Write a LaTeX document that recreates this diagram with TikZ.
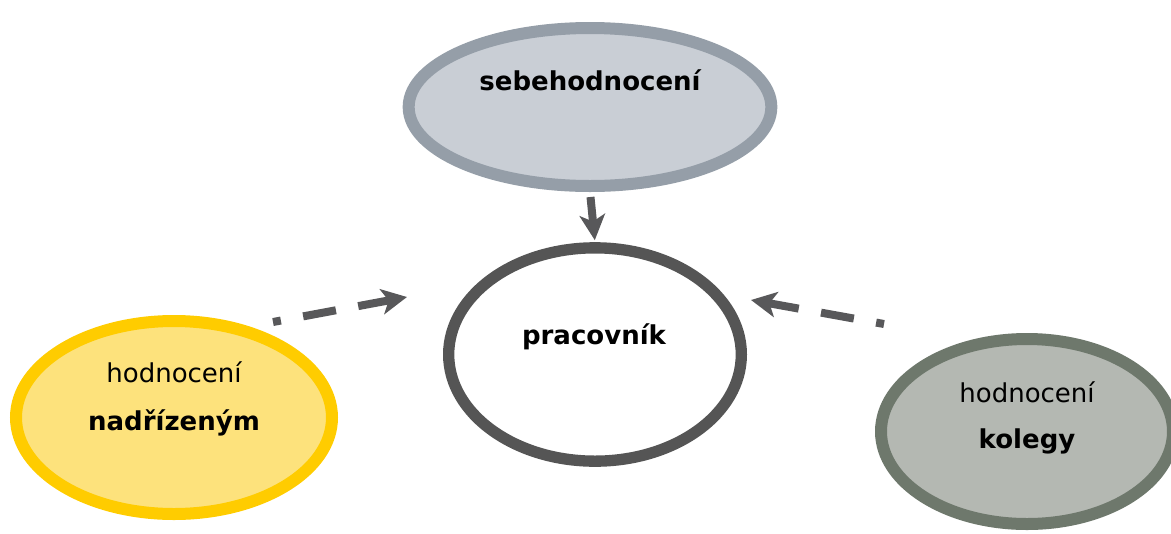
\documentclass[tikz,border=0pt]{standalone}
\usepackage{fontspec}
\setmainfont{DejaVu Sans}
\usetikzlibrary{shapes.geometric, arrows.meta, positioning}

\definecolor{sebefill}{HTML}{C9CED5}
\definecolor{sebeline}{HTML}{959EA8}
\definecolor{pracline}{HTML}{555555}
\definecolor{nadfill}{HTML}{FDE27C}
\definecolor{nadline}{HTML}{FFCC00}
\definecolor{kolfill}{HTML}{B4B8B2}
\definecolor{kolline}{HTML}{6E786C}
\definecolor{arrowgray}{HTML}{58585A}

\begin{document}
\begin{tikzpicture}[x=0.75pt, y=-0.75pt,
    bubble/.style={ellipse, draw, inner sep=0pt, line width=9pt},
    txt/.style={anchor=base, font=\fontsize{19.5}{23}\selectfont},
    btxt/.style={anchor=base, font=\fontsize{19.5}{23}\selectfont\bfseries},
    link/.style={draw=arrowgray, line width=6pt,
        -{Stealth[length=19pt, width=19pt, inset=5pt]}},
    dashlink/.style={link, dash pattern=on 6pt off 17pt on 25pt off 17pt on 80pt off 5pt}]

    \useasboundingbox (0,0) rectangle (1171,533);

    % Ellipses
    \node[bubble, draw=sebeline, fill=sebefill, minimum width=272pt, minimum height=118.5pt] (sebe) at (590,107) {};
    \node[bubble, draw=pracline, fill=white, line width=8.5pt, minimum width=219.5pt, minimum height=160pt] (prac) at (595,354.5) {};
    \node[bubble, draw=nadline, fill=nadfill, minimum width=237pt, minimum height=144.75pt] (nad) at (174,417.5) {};
    \node[bubble, draw=kolline, fill=kolfill, minimum width=219pt, minimum height=138.75pt] (kol) at (1027,431.5) {};

    % Texts
    \node[btxt] (sebetext) at (590,90) {sebehodnocení};
    \node[btxt] (practext) at (594,344) {pracovník};
    \node[txt] (nadtext1) at (174,382) {hodnocení};
    \node[btxt] (nadtext2) at (174,430) {nadřízeným};
    \node[txt] (koltext1) at (1027,402) {hodnocení};
    \node[btxt] (koltext2) at (1027,448) {kolegy};

    % Arrows
    \draw[link, shorten <=3.75pt, shorten >=1.5pt] (sebe.south) -- (prac.north);
    \coordinate (nadtail) at (273,322);
    \coordinate (nadhead) at (407,297);
    \draw[dashlink] (nadtail) -- (nadhead);
    \coordinate (koltail) at (884,324);
    \coordinate (kolhead) at (751,300);
    \draw[dashlink] (koltail) -- (kolhead);
\end{tikzpicture}
\end{document}
